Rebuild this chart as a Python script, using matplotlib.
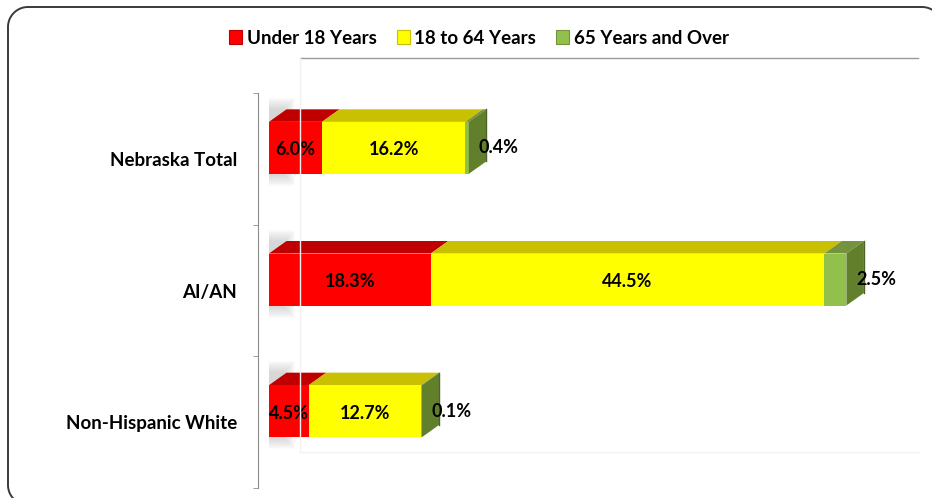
import matplotlib.pyplot as plt
from matplotlib.patches import Patch
from matplotlib.lines import Line2D
from matplotlib.transforms import IdentityTransform
import numpy as np

plt.rcParams['font.family'] = ['Lato', 'DejaVu Sans']
plt.rcParams['font.weight'] = 'bold'

categories = ['Nebraska Total', 'AI/AN', 'Non-Hispanic White']
series_names = ['Under 18 Years', '18 to 64 Years', '65 Years and Over']
under18 = [6.0, 18.3, 4.5]
age18_64 = [16.2, 44.5, 12.7]
age65 = [0.4, 2.5, 0.1]

front_cols = ['#ff0000', '#ffff00', '#92c04c']
top_cols = ['#c00000', '#c8c000', '#76923c']
side_col = '#62802c'

W, H = 932, 498
fig = plt.figure(figsize=(W / 100, H / 100), dpi=100)


def fx(px):
    return px / W


def fy(py):
    return 1 - py / H


# rounded chart border, only the part that shows inside the image
# (pixel coords, y measured from the top)
r = 20
left, top, right, bottom = 8, 7, 942, 505
t = np.linspace(0, np.pi / 2, 30)
bl_x = left + r - r * np.cos(t)
bl_y = bottom - r + r * np.sin(t)
tl_x = left + r - r * np.cos(t)
tl_y = top + r - r * np.sin(t)
tr_x = right - r + r * np.sin(t)
tr_y = top + r - r * np.cos(t)
border_x = np.concatenate([bl_x[::-1], tl_x, tr_x])
border_y = np.concatenate([bl_y[::-1], tl_y, tr_y])
fig.add_artist(Line2D(border_x, H - border_y, transform=IdentityTransform(),
                      color='#3a3a3a', lw=1.4))

# back wall edges
fig.add_artist(Line2D([fx(300), fx(918)], [fy(58), fy(58)],
                      transform=fig.transFigure, color='#9a9a9a', lw=1))
fig.add_artist(Line2D([fx(300), fx(300)], [fy(58), fy(452)],
                      transform=fig.transFigure, color='#f2f2f2', lw=1))
fig.add_artist(Line2D([fx(300), fx(918)], [fy(452), fy(452)],
                      transform=fig.transFigure, color='#f2f2f2', lw=1))

ax = fig.add_axes([fx(269), fy(488), fx(918) - fx(269), (488 - 93) / H])
ax.patch.set_alpha(0)
xmax = 73.4
ax.set_xlim(0, xmax)
ax.set_ylim(2.5, -0.5)

px_x = xmax / (918 - 269)      # data per pixel, x
px_y = 3.0 / (488 - 93)        # data per pixel, y
dx = 17.5 * px_x
dy = 12.5 * px_y
bar_h = 52 * px_y
shift = 11 * px_y

data = np.array([under18, age18_64, age65])
ypos = np.arange(len(categories)) - shift

for i in range(len(categories)):
    yc = ypos[i]
    yt = yc - bar_h / 2
    yb = yc + bar_h / 2
    lefts = np.concatenate([[0], np.cumsum(data[:, i])[:-1]])
    total = data[:, i].sum()

    # soft shadow at the left end
    for k in range(12):
        e = k * 1.0
        xs = [-(1 + e) * px_x, (15 + e) * px_x, (15 + e) * px_x, -(1 + e) * px_x]
        ys = [yt - (13 + e) * px_y, yt - (13 + e) * px_y,
              yb + (1 + e) * px_y, yb + (1 + e) * px_y]
        ax.fill(xs, ys, color='#707070', alpha=0.025, lw=0, zorder=1)

    # top faces, front faces, end face
    for s in range(3):
        x0 = lefts[s]
        x1 = x0 + data[s, i]
        ax.fill([x0, x1, x1 + dx, x0 + dx], [yt, yt, yt - dy, yt - dy],
                color=top_cols[s], lw=0, zorder=2)
    for s in range(3):
        ax.barh(yc, data[s, i], left=lefts[s], height=bar_h,
                color=front_cols[s], lw=0, zorder=3)
    ax.fill([total, total + dx, total + dx, total],
            [yt, yt - dy, yb - dy, yb], color=side_col, lw=0, zorder=3)
    ax.plot([total + dx, total + dx], [yt - dy, yb - dy], color='#4f6228',
            lw=1, zorder=3)

    for s in range(2):
        v = data[s, i]
        ax.text(lefts[s] + v / 2, yc + 2 * px_y, f'{v:.1f}%', ha='center',
                va='center', fontsize=13, fontweight='bold', color='black',
                zorder=5)
    ax.annotate(f'{data[2, i]:.1f}%', (total, yc), xytext=(7, 0),
                textcoords='offset points', ha='left', va='center',
                fontsize=13, fontweight='bold', color='black', zorder=5)

for side in ['top', 'right', 'bottom']:
    ax.spines[side].set_visible(False)
ax.spines['left'].set_position(('outward', 7.9))
ax.spines['left'].set_color('#8c8c8c')
ax.set_xticks([])
ax.set_yticks(range(len(categories)))
ax.set_yticklabels(categories, fontsize=13.5, fontweight='bold')
ax.tick_params(axis='y', which='major', length=0, pad=15)
ax.set_yticks(np.arange(-0.5, len(categories)), minor=True)
ax.tick_params(axis='y', which='minor', length=3.6, color='#8c8c8c')

handles = [Patch(facecolor=front_cols[s], edgecolor=top_cols[s], lw=0.8)
           for s in range(3)]
fig.legend(handles, series_names, loc='center', bbox_to_anchor=(fx(479), fy(38)),
           ncol=3, frameon=False, handlelength=0.7, handleheight=0.7,
           handletextpad=0.25, columnspacing=1.05,
           prop={'weight': 'bold', 'size': 13.5})

fig.savefig('out.png', dpi=100)
